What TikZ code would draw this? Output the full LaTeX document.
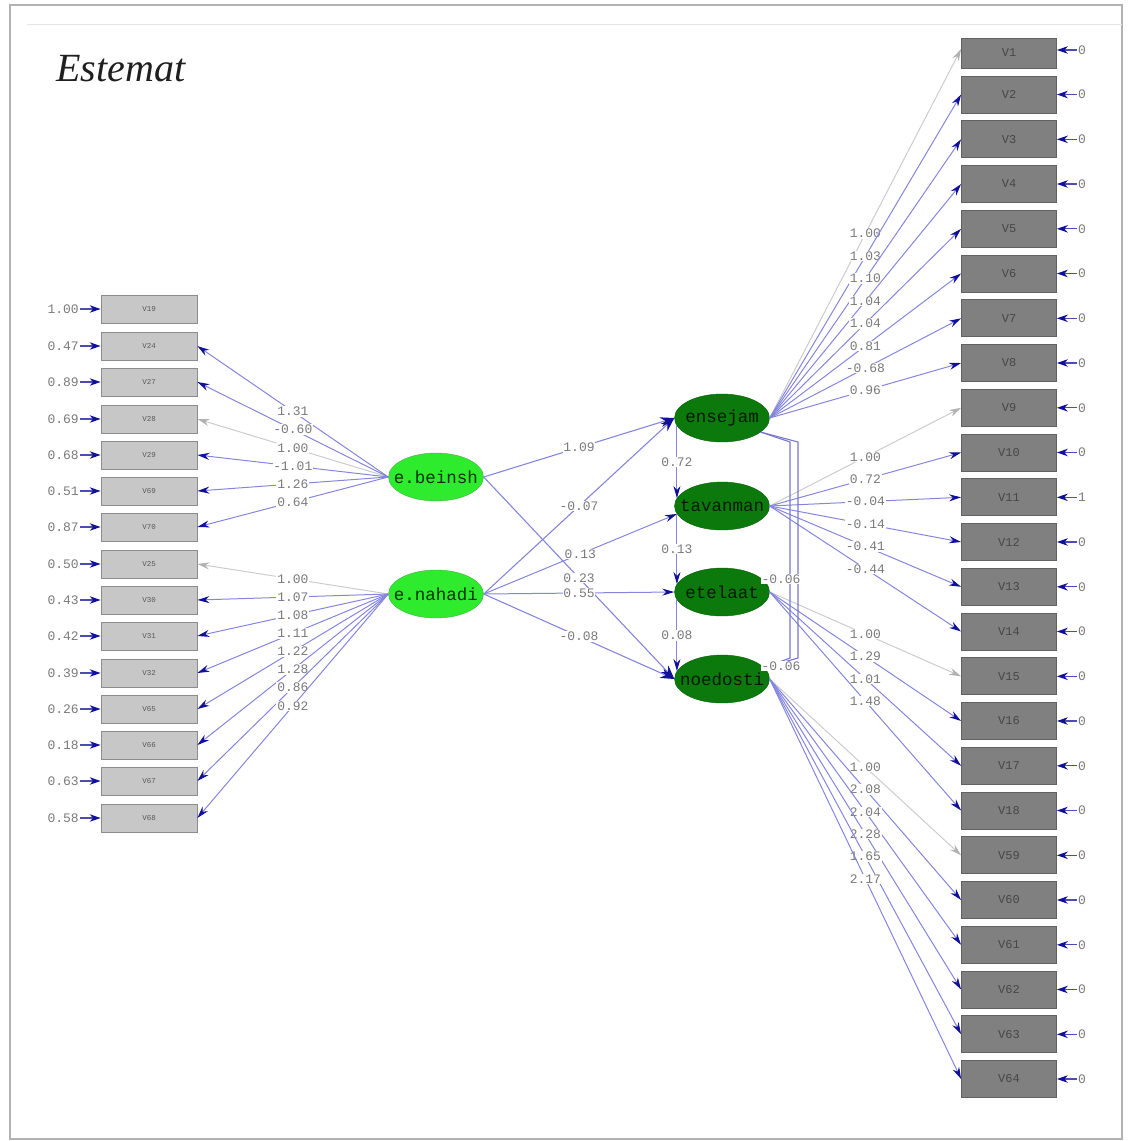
\documentclass[tikz,border=0pt]{standalone}
\usepackage{fontspec}
\usetikzlibrary{arrows.meta,shapes.geometric}
\newfontfamily\lmono{Liberation Mono}
\newfontfamily\titlefont{Liberation Serif}
\definecolor{pathblue}{HTML}{8585E0}
\definecolor{tipblue}{HTML}{10109A}
\definecolor{lightgreen}{HTML}{2EEB2E}
\definecolor{darkgreen}{HTML}{0B790B}
\definecolor{numgray}{HTML}{7A7A7A}
% centred text that does not widen its node
\newcommand\zerowd[1]{\makebox[0pt][c]{#1}}
\tikzset{
  lbox/.style={rectangle, draw=black!45, line width=0.8pt, fill=black!22,
    minimum width=96pt, minimum height=28pt, inner sep=0pt,
    font=\lmono\fontsize{7.5}{7.5}\selectfont, text=black!65},
  rbox/.style={rectangle, draw=black!62, line width=0.8pt, fill=black!50,
    minimum width=95pt, minimum height=37pt, inner sep=0pt,
    font=\lmono\fontsize{12}{12}\selectfont, text=black!72},
  latent/.style={ellipse, minimum width=95pt, minimum height=48pt, inner sep=0pt,
    font=\lmono\fontsize{17.5}{17.5}\selectfont},
  exo/.style={latent, fill=lightgreen, draw=green!55!black!70, text=black!80!green},
  endo/.style={latent, fill=darkgreen, draw=darkgreen!80!black, text=black!90!green},
  load/.style={draw=pathblue, line width=1pt,
    -{Stealth[length=12pt,width=7pt,color=tipblue]}},
  bigload/.style={draw=pathblue, line width=1.1pt,
    -{Stealth[length=14pt,width=10pt,color=tipblue]}},
  fixed/.style={draw=black!20, line width=1pt,
    -{Stealth[length=12pt,width=7pt,color=black!30]}},
  errarr/.style={draw=tipblue!75, line width=1.2pt,
    -{Stealth[length=11pt,width=7.5pt,color=tipblue]}},
  cov/.style={draw=pathblue!90!black, line width=1.1pt},
  est/.style={font=\lmono\fontsize{13}{13}\selectfont, text=numgray,
    fill=white, inner sep=0.8pt},
  errnum/.style={font=\lmono\fontsize{13}{13}\selectfont, text=numgray, inner sep=1pt},
}
\begin{document}
\begin{tikzpicture}[x=1pt,y=-1pt]
\path[use as bounding box] (0,0) rectangle (1128,1141);
% page frame
\draw[black!30, line width=1.3pt] (10,5) rectangle (1122,1139);
\draw[black!10, line width=1pt] (27,24) -- (1122,24);
\node[anchor=base west, font=\titlefont\itshape\fontsize{40}{40}\selectfont,
  text=black!88] (title) at (53,81) {Estemat};

% exogenous latent variables
\node[exo] (beinsh) at (436,477) {\zerowd{e.beinsh}};
\node[exo] (nahadi) at (436,594) {\zerowd{e.nahadi}};
% endogenous latent variables
\node[endo] (ensejam)  at (722,418) {\zerowd{ensejam}};
\node[endo] (tavanman) at (722,506) {\zerowd{tavanman}};
\node[endo] (etelaat)  at (722,592) {\zerowd{etelaat}};
\node[endo] (noedosti) at (722,679) {\zerowd{noedosti}};

% left indicators with error variances
\foreach \n/\yy/\e in {19/309/1.00, 24/346/0.47, 27/382/0.89, 28/419/0.69,
    29/455/0.68, 69/491/0.51, 70/527/0.87, 25/564/0.50, 30/600/0.43,
    31/636/0.42, 32/673/0.39, 65/709/0.26, 66/745/0.18, 67/781/0.63, 68/818/0.58} {
  \node[lbox] (v\n) at (149,\yy) {V\n};
  \node[errnum, anchor=east] (ev\n) at (80,\yy) {\e};
  \draw[errarr] (ev\n.east) -- (v\n.west);
}

% right indicators with error variances
\foreach \n/\yy/\e in {2/94.5/0, 3/139.3/0, 4/184/0, 5/228.8/0, 6/273.5/0,
    7/318.3/0, 8/363/0, 9/407.8/0, 10/452.5/0, 11/497.3/1, 12/542/0,
    13/586.8/0, 14/631.5/0, 15/676.3/0, 16/721/0, 17/765.8/0, 18/810.5/0,
    59/855.3/0, 60/900/0, 61/944.8/0, 62/989.5/0, 63/1034.3/0, 64/1079/0} {
  \node[rbox] (v\n) at (1009,\yy) {V\n};
  \node[errnum, anchor=west] (ev\n) at (1077,\yy) {\e};
  \draw[errarr] (ev\n.west) -- (v\n.east);
}
\node[rbox, minimum height=30pt] (v1) at (1009,53) {V1};
\node[errnum, anchor=west] (ev1) at (1077,50) {0};
\draw[errarr] (ev1.west) -- (v1.east |- ev1.west);

% loadings of e.beinsh
\draw[fixed] (beinsh.west) -- node[est] {1.00} (v28.east);
\foreach \n/\l in {24/1.31, 27/-0.60, 29/-1.01, 69/1.26, 70/0.64}
  \draw[load] (beinsh.west) -- node[est] {\l} (v\n.east);

% loadings of e.nahadi
\draw[fixed] (nahadi.west) -- node[est] {1.00} (v25.east);
\foreach \n/\l in {30/1.07, 31/1.08, 32/1.11, 65/1.22, 66/1.28, 67/0.86, 68/0.92}
  \draw[load] (nahadi.west) -- node[est] {\l} (v\n.east);

% loadings of ensejam
\draw[fixed] (ensejam.east) -- node[est] {1.00} ([yshift=4pt]v1.west);
\foreach \n/\l in {2/1.03, 3/1.10, 4/1.04, 5/1.04, 6/0.81, 7/-0.68, 8/0.96}
  \draw[load] (ensejam.east) -- node[est] {\l} (v\n.west);

% loadings of tavanman
\draw[fixed] (tavanman.east) -- node[est] {1.00} (v9.west);
\foreach \n/\l in {10/0.72, 11/-0.04, 12/-0.14, 13/-0.41, 14/-0.44}
  \draw[load] (tavanman.east) -- node[est] {\l} (v\n.west);

% loadings of etelaat
\draw[fixed] (etelaat.east) -- node[est] {1.00} (v15.west);
\foreach \n/\l in {16/1.29, 17/1.01, 18/1.48}
  \draw[load] (etelaat.east) -- node[est] {\l} (v\n.west);

% loadings of noedosti
\draw[fixed] (noedosti.east) -- node[est] {1.00} (v59.west);
\foreach \n/\l in {60/2.08, 61/2.04, 62/2.28, 63/1.65, 64/2.17}
  \draw[load] (noedosti.east) -- node[est] {\l} (v\n.west);

% structural paths
\draw[bigload] (beinsh.east) -- node[est] {1.09} (ensejam.west);
\draw[bigload] (beinsh.east) -- node[est] {0.23} (noedosti.west);
\draw[bigload] (nahadi.east) -- node[est] {-0.07} (ensejam.west);
\draw[load] (nahadi.east) -- node[est] {0.13} (tavanman.190);
\draw[load] (nahadi.east) -- node[est] {0.55} (etelaat.west);
\draw[bigload] (nahadi.east) -- node[est] {-0.08} (noedosti.west);
\draw[load] (ensejam.190) -- node[est] {0.72} (tavanman.170);
\draw[load] (tavanman.190) -- node[est] {0.13} (etelaat.170);
\draw[load] (etelaat.190) -- node[est] {0.08} (noedosti.170);

% covariances of the disturbances
\coordinate (ca1) at (790,442);
\coordinate (ca2) at (790,658);
\coordinate (cb1) at (798,442);
\coordinate (cb2) at (798,658);
\draw[cov] (ensejam.-20) -- (ca1) -- (ca2) -- (noedosti.15);
\draw[cov] (ensejam.-20) -- (cb1) -- (cb2) -- (noedosti.15);
\node[est] (c1) at (781,579) {-0.06};
\node[est] (c2) at (781,666) {-0.06};
\end{tikzpicture}
\end{document}
